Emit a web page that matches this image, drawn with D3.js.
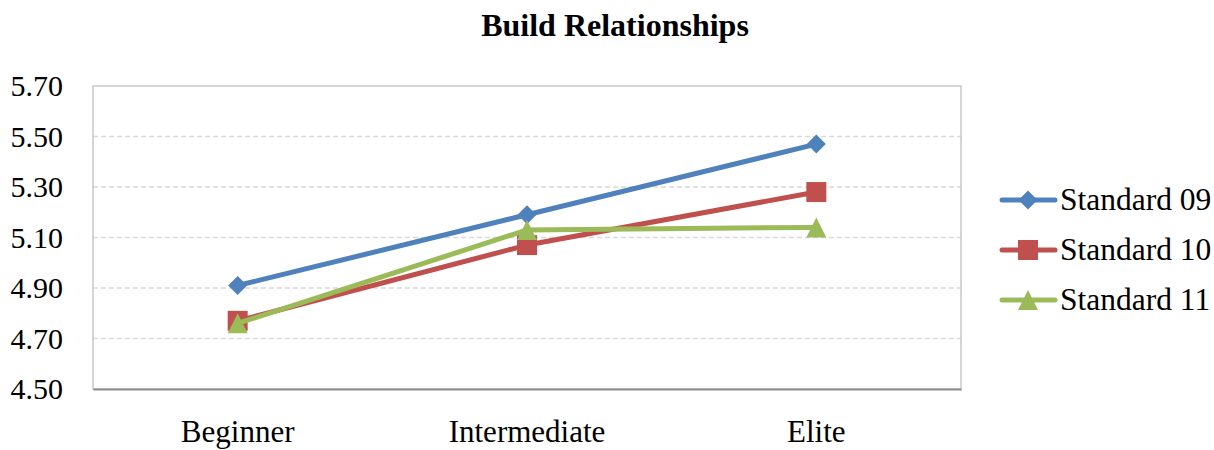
<!DOCTYPE html>
<html>
<head>
<meta charset="utf-8">
<script src="https://cdn.jsdelivr.net/npm/d3@7/dist/d3.min.js"></script>
<style>
  html, body { margin: 0; padding: 0; background: #fff; }
  svg { display: block; font-family: "Liberation Serif", "Times New Roman", serif; }
</style>
</head>
<body>
<svg id="chart" width="1214" height="450"></svg>
<script>
// Chart data
const title = "Build Relationships";
const categories = ["Beginner", "Intermediate", "Elite"];
const seriesNames = ["Standard 09", "Standard 10", "Standard 11"];
const standard09 = [4.91, 5.19, 5.47];
const standard10 = [4.77, 5.07, 5.28];
const standard11 = [4.76, 5.13, 5.14];
const yTicks = [4.50, 4.70, 4.90, 5.10, 5.30, 5.50, 5.70];

const serif = "'Liberation Serif', 'Times New Roman', serif";

// Marker shapes: a square turned 45°, a square, and an isosceles triangle as tall as it is wide
const diamond = {
  draw(ctx, size) {
    const r = Math.sqrt(size * 2) / 2;
    ctx.moveTo(0, -r); ctx.lineTo(r, 0); ctx.lineTo(0, r); ctx.lineTo(-r, 0); ctx.closePath();
  }
};
const square = {
  draw(ctx, size) {
    const r = Math.sqrt(size) / 2;
    ctx.rect(-r, -r, 2 * r, 2 * r);
  }
};
const triangle = {
  draw(ctx, size) {
    const r = Math.sqrt(size) / 2;
    ctx.moveTo(0, -r); ctx.lineTo(r, r); ctx.lineTo(-r, r); ctx.closePath();
  }
};

const series = [
  { name: seriesNames[0], values: standard09, color: "#4F81BD", symbol: diamond, size: 180 },
  { name: seriesNames[1], values: standard10, color: "#C0504D", symbol: square, size: 400 },
  { name: seriesNames[2], values: standard11, color: "#9BBB59", symbol: triangle, size: 400 }
];

const svg = d3.select("#chart");
const plot = { left: 93, right: 961, top: 86, bottom: 389 };

const x = d3.scaleBand().domain(categories).range([plot.left, plot.right]);
const y = d3.scaleLinear().domain([4.5, 5.7]).range([plot.bottom, plot.top]);

// Title
svg.append("text")
  .attr("x", 615).attr("y", 36)
  .attr("text-anchor", "middle")
  .attr("font-family", serif)
  .attr("font-weight", "bold")
  .attr("font-size", 32)
  .attr("fill", "#000")
  .text(title);

// Horizontal dashed gridlines
svg.append("g")
  .selectAll("line")
  .data(yTicks.slice(1, -1))
  .join("line")
  .attr("x1", plot.left).attr("x2", plot.right)
  .attr("y1", d => y(d)).attr("y2", d => y(d))
  .attr("stroke", "#d9d9d9")
  .attr("stroke-width", 1.3)
  .attr("stroke-dasharray", "5,3");

// Plot frame
svg.append("rect")
  .attr("x", plot.left).attr("y", plot.top)
  .attr("width", plot.right - plot.left)
  .attr("height", plot.bottom - plot.top)
  .attr("fill", "none")
  .attr("stroke", "#c8c8c8")
  .attr("stroke-width", 1.5);

// Y axis labels
const yAxis = svg.append("g")
  .attr("transform", `translate(${plot.left},0)`)
  .call(d3.axisLeft(y).tickValues(yTicks).tickFormat(d3.format(".2f")).tickSize(0).tickPadding(30));
yAxis.select(".domain").remove();
yAxis.selectAll("text")
  .attr("font-family", serif)
  .attr("font-size", 30)
  .attr("fill", "#000");

// X axis
const xAxis = svg.append("g")
  .attr("transform", `translate(0,${plot.bottom})`)
  .call(d3.axisBottom(x).tickSize(0).tickPadding(31));
xAxis.select(".domain").attr("stroke", "#8c8c8c").attr("stroke-width", 2);
xAxis.selectAll("text")
  .attr("font-family", serif)
  .attr("font-size", 31)
  .attr("fill", "#000");

const cx = c => x(c) + x.bandwidth() / 2;

const line = d3.line()
  .x((d, i) => cx(categories[i]))
  .y(d => y(d));

series.forEach(s => {
  const g = svg.append("g");
  g.append("path")
    .attr("d", line(s.values))
    .attr("fill", "none")
    .attr("stroke", s.color)
    .attr("stroke-width", 5)
    .attr("stroke-linejoin", "round");
  g.selectAll("path.marker")
    .data(s.values)
    .join("path")
    .attr("class", "marker")
    .attr("transform", (d, i) => `translate(${cx(categories[i])},${y(d)})`)
    .attr("d", d3.symbol().type(s.symbol).size(s.size))
    .attr("fill", s.color);
});

// Legend
const legend = svg.append("g");
series.forEach((s, i) => {
  const ly = 200 + i * 50;
  legend.append("line")
    .attr("x1", 1002).attr("x2", 1055)
    .attr("y1", ly).attr("y2", ly)
    .attr("stroke", s.color)
    .attr("stroke-width", 5)
    .attr("stroke-linecap", "round");
  legend.append("path")
    .attr("transform", `translate(1028,${ly})`)
    .attr("d", d3.symbol().type(s.symbol).size(s.size))
    .attr("fill", s.color);
  legend.append("text")
    .attr("x", 1060).attr("y", ly)
    .attr("dy", "0.33em")
    .attr("font-family", serif)
    .attr("font-size", 31.5)
    .attr("fill", "#000")
    .text(s.name);
});
</script>
</body>
</html>
